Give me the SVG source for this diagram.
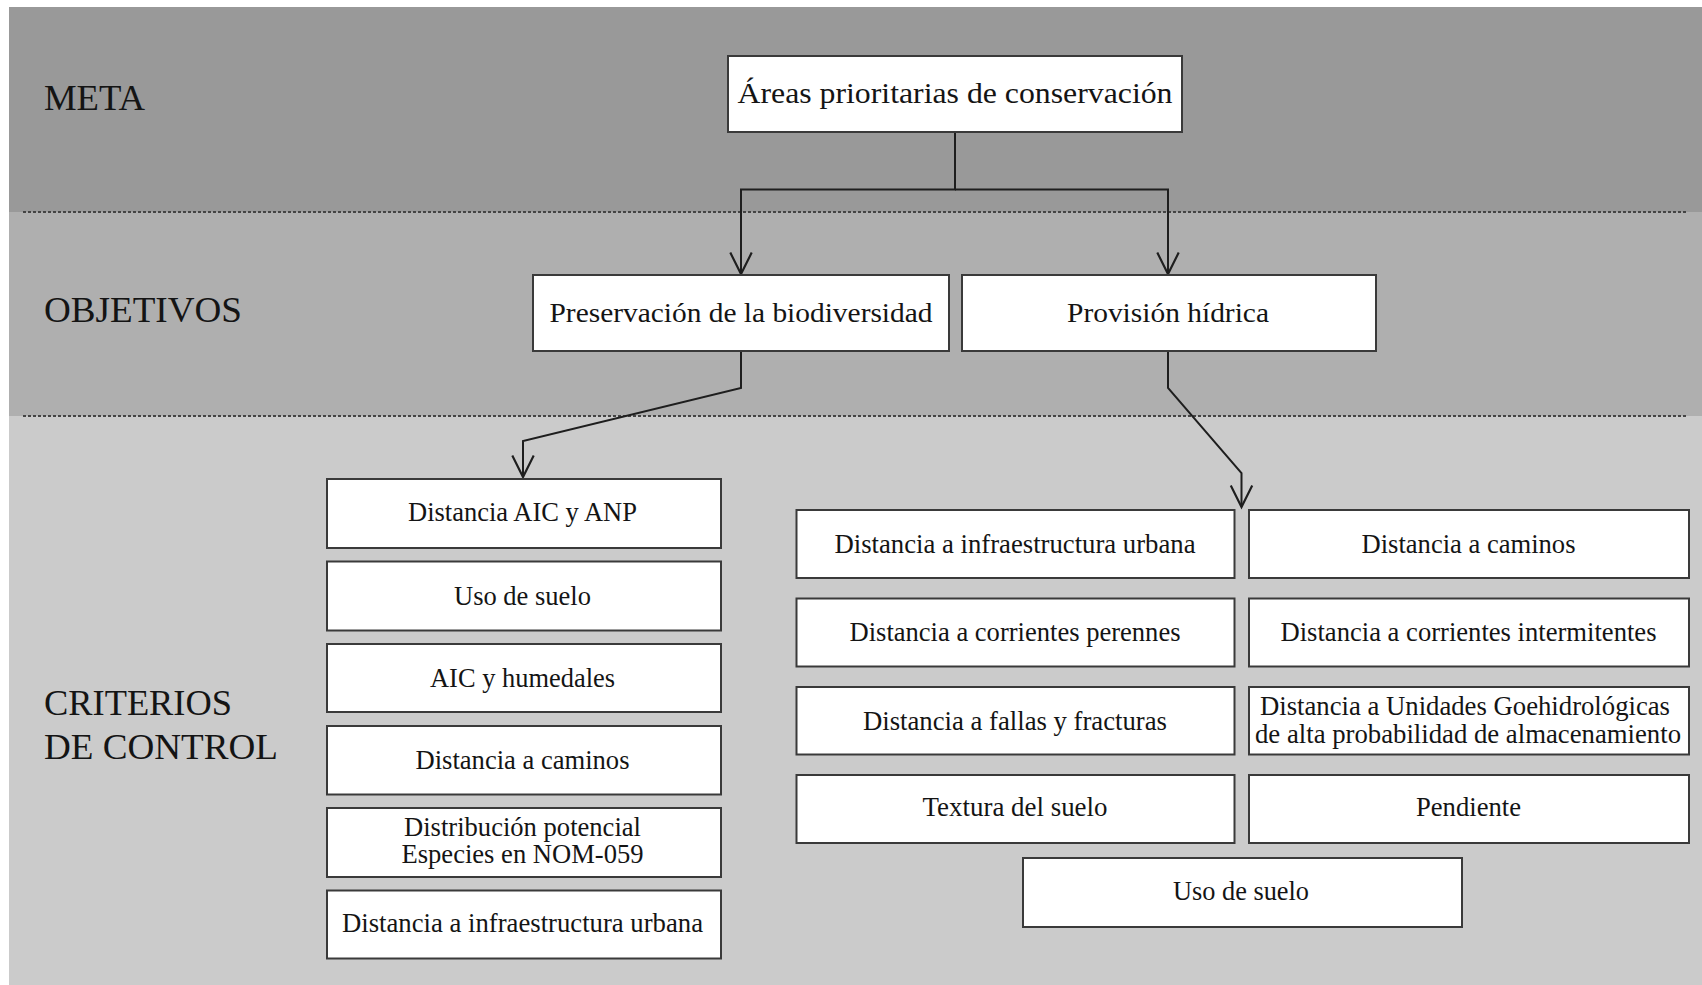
<svg xmlns="http://www.w3.org/2000/svg" width="1702" height="985" viewBox="0 0 1702 985">
<style>
.band-label{font-family:"Liberation Serif","Times New Roman",serif;font-size:36px;fill:#141414}
.box{fill:#ffffff;stroke:#3a3a3a;stroke-width:2}
.t{font-family:"Liberation Serif","Times New Roman",serif;fill:#141414;text-anchor:middle}
.t30{font-size:30px}
.t28{font-size:28px}
.t27{font-size:27px}
.div{stroke:#444444;stroke-width:2;stroke-dasharray:3 2;fill:none}
.conn{stroke:#1e1e1e;stroke-width:2;fill:none}
</style>
<defs>
<marker id="arr" markerUnits="userSpaceOnUse" orient="auto" markerWidth="30" markerHeight="30" refX="0" refY="0" viewBox="-24 -14 28 28" overflow="visible">
<path d="M-20,-10 L0,0 L-20,10" fill="none" stroke="#1e1e1e" stroke-width="2"/>
</marker>
</defs>
<rect width="1702" height="985" fill="#ffffff"/>
<g id="bands">
<rect x="9" y="7" width="1693" height="205" fill="#999999"/>
<rect x="9" y="212" width="1693" height="204" fill="#afafaf"/>
<rect x="9" y="416" width="1693" height="569" fill="#cbcbcb"/>
<line class="div" x1="23" y1="212" x2="1688" y2="212"/>
<line class="div" x1="23" y1="416" x2="1688" y2="416"/>
</g>
<g id="labels">
<text class="band-label" x="44" y="110" textLength="101" lengthAdjust="spacingAndGlyphs">META</text>
<text class="band-label" x="44" y="322" textLength="198" lengthAdjust="spacingAndGlyphs">OBJETIVOS</text>
<text class="band-label" x="44" y="715" textLength="188" lengthAdjust="spacingAndGlyphs">CRITERIOS</text>
<text class="band-label" x="44" y="759" textLength="234" lengthAdjust="spacingAndGlyphs">DE CONTROL</text>
</g>
<g id="connectors">
<path class="conn" d="M955,132 V189.5 H741 V274" marker-end="url(#arr)"/>
<path class="conn" d="M955,189.5 H1168 V274" marker-end="url(#arr)"/>
<path class="conn" d="M741,351 V388 L523,441 V477" marker-end="url(#arr)"/>
<path class="conn" d="M1168,351 V388 L1241.5,473 V507" marker-end="url(#arr)"/>
</g>
<g id="meta">
<rect class="box" x="728" y="56" width="454" height="76"/>
<text class="t t30" x="955" y="103" textLength="435" lengthAdjust="spacingAndGlyphs">Áreas prioritarias de conservación</text>
</g>
<g id="obj-biodiversidad">
<rect class="box" x="533" y="275" width="416" height="76"/>
<text class="t t28" x="741" y="322" textLength="383" lengthAdjust="spacingAndGlyphs">Preservación de la biodiversidad</text>
</g>
<g id="obj-hidrica">
<rect class="box" x="962" y="275" width="414" height="76"/>
<text class="t t28" x="1168" y="322" textLength="202" lengthAdjust="spacingAndGlyphs">Provisión hídrica</text>
</g>
<g id="b-aic-anp">
<rect class="box" x="327" y="479" width="394" height="69"/>
<text class="t t27" x="522.5" y="521" textLength="229" lengthAdjust="spacingAndGlyphs">Distancia AIC y ANP</text>
</g>
<g id="b-uso">
<rect class="box" x="327" y="561.5" width="394" height="69"/>
<text class="t t27" x="522.5" y="604.5" textLength="137" lengthAdjust="spacingAndGlyphs">Uso de suelo</text>
</g>
<g id="b-humedales">
<rect class="box" x="327" y="644" width="394" height="68"/>
<text class="t t27" x="522.5" y="686.5" textLength="185" lengthAdjust="spacingAndGlyphs">AIC y humedales</text>
</g>
<g id="b-caminos">
<rect class="box" x="327" y="726" width="394" height="68.5"/>
<text class="t t27" x="522.5" y="768.5" textLength="214" lengthAdjust="spacingAndGlyphs">Distancia a caminos</text>
</g>
<g id="b-nom059">
<rect class="box" x="327" y="808" width="394" height="69"/>
<text class="t t27" x="522.5" y="836" textLength="237" lengthAdjust="spacingAndGlyphs">Distribución potencial</text>
<text class="t t27" x="522.5" y="863" textLength="242" lengthAdjust="spacingAndGlyphs">Especies en NOM-059</text>
</g>
<g id="b-infra">
<rect class="box" x="327" y="890.5" width="394" height="68"/>
<text class="t t27" x="522.5" y="931.5" textLength="361" lengthAdjust="spacingAndGlyphs">Distancia a infraestructura urbana</text>
</g>
<g id="h-infra">
<rect class="box" x="796.5" y="510" width="438" height="68"/>
<text class="t t27" x="1015" y="553" textLength="361" lengthAdjust="spacingAndGlyphs">Distancia a infraestructura urbana</text>
</g>
<g id="h-caminos">
<rect class="box" x="1249" y="510" width="440" height="68"/>
<text class="t t27" x="1468.5" y="553" textLength="214" lengthAdjust="spacingAndGlyphs">Distancia a caminos</text>
</g>
<g id="h-perennes">
<rect class="box" x="796.5" y="598.5" width="438" height="68"/>
<text class="t t27" x="1015" y="640.5" textLength="331" lengthAdjust="spacingAndGlyphs">Distancia a corrientes perennes</text>
</g>
<g id="h-intermitentes">
<rect class="box" x="1249" y="598.5" width="440" height="68"/>
<text class="t t27" x="1468.5" y="640.5" textLength="376" lengthAdjust="spacingAndGlyphs">Distancia a corrientes intermitentes</text>
</g>
<g id="h-fallas">
<rect class="box" x="796.5" y="687" width="438" height="67.5"/>
<text class="t t27" x="1015" y="729.5" textLength="304" lengthAdjust="spacingAndGlyphs">Distancia a fallas y fracturas</text>
</g>
<g id="h-geohidro">
<rect class="box" x="1249" y="687" width="440" height="67.5"/>
<text class="t t27" x="1465" y="715" textLength="410" lengthAdjust="spacingAndGlyphs">Distancia a Unidades Goehidrológicas</text>
<text class="t t27" x="1468" y="742.5" textLength="426" lengthAdjust="spacingAndGlyphs">de alta probabilidad de almacenamiento</text>
</g>
<g id="h-textura">
<rect class="box" x="796.5" y="775" width="438" height="68"/>
<text class="t t27" x="1015" y="816" textLength="185" lengthAdjust="spacingAndGlyphs">Textura del suelo</text>
</g>
<g id="h-pendiente">
<rect class="box" x="1249" y="775" width="440" height="68"/>
<text class="t t27" x="1468.5" y="816" textLength="105" lengthAdjust="spacingAndGlyphs">Pendiente</text>
</g>
<g id="h-uso">
<rect class="box" x="1023" y="858" width="439" height="69"/>
<text class="t t27" x="1241" y="900" textLength="136" lengthAdjust="spacingAndGlyphs">Uso de suelo</text>
</g>
</svg>
